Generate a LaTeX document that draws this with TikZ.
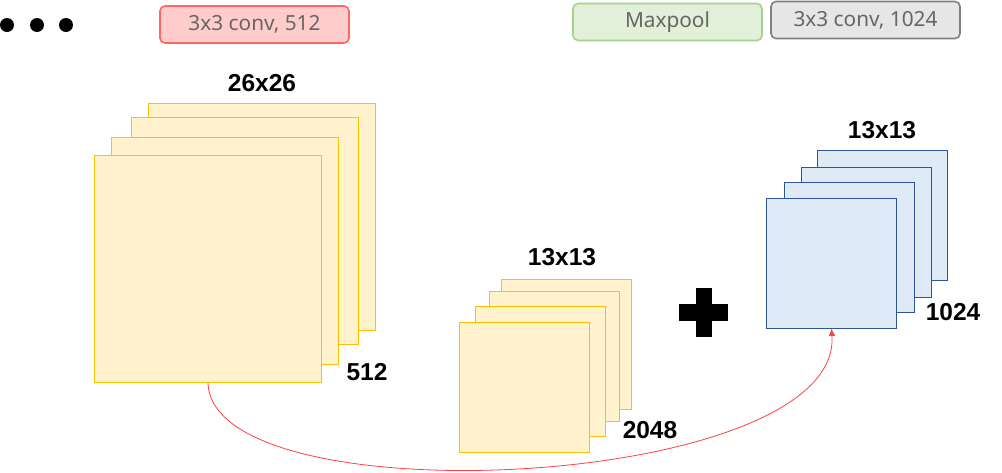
\documentclass[tikz,border=0pt]{standalone}
\usepackage{fontspec}
\setmainfont{Liberation Sans}
\newfontfamily\boxfont{Noto Sans}
\usetikzlibrary{arrows.meta}
\definecolor{yfill}{HTML}{FFF2CC}
\definecolor{ydraw}{HTML}{FFC000}
\definecolor{bfill}{HTML}{DEEBF7}
\definecolor{bdraw}{HTML}{2F5597}
\definecolor{rfill}{HTML}{FFCCCC}
\definecolor{rdraw}{HTML}{FF6666}
\definecolor{gfill}{HTML}{E2F0D9}
\definecolor{gdraw}{HTML}{A9D18E}
\definecolor{kfill}{HTML}{E6E6E6}
\definecolor{kdraw}{HTML}{808080}
\definecolor{txtgrey}{HTML}{666666}
\definecolor{arrred}{HTML}{FF4040}
\tikzset{
  ysq/.style={draw=ydraw, fill=yfill, line width=1pt, inner sep=0pt, anchor=north west},
  bsq/.style={draw=bdraw, fill=bfill, line width=1pt, inner sep=0pt, anchor=north west},
  big/.style={minimum width=227pt, minimum height=227pt},
  small/.style={minimum width=130pt, minimum height=130pt},
  lbl/.style={font=\fontsize{24.5}{28}\selectfont\bfseries, inner sep=0pt},
  tbox/.style={rounded corners=5pt, line width=1.6pt, minimum width=189pt, minimum height=37pt,
    font=\boxfont\fontsize{20.8}{24}\selectfont, text=txtgrey, inner sep=0pt},
  dot/.style={circle, fill=black, minimum size=14pt, inner sep=0pt},
}
\begin{document}
\begin{tikzpicture}[x=1pt, y=-1pt]
\useasboundingbox (0,0) rectangle (1002,472);
% dots
\node[dot] (d1) at (7,25) {};
\node[dot] (d2) at (37,25) {};
\node[dot] (d3) at (66,25) {};
% top boxes
\node[tbox, draw=rdraw, fill=rfill] (conv512) at (254.5,24.5) {3x3 conv, 512};
\node[tbox, draw=gdraw, fill=gfill] (maxpool) at (667.5,22) {Maxpool};
\node[tbox, draw=kdraw, fill=kfill] (conv1024) at (865.5,20) {3x3 conv, 1024};
% left stack
\node[ysq, big] (l4) at (148,103) {};
\node[ysq, big] (l3) at (131,117) {};
\node[ysq, big] (l2) at (111,137) {};
\node[ysq, big] (l1) at (94,155) {};
\node[lbl] (l26) at (262,83) {26x26};
\node[lbl] (l512) at (367,372) {512};
% middle stack
\node[ysq, small] (m4) at (501,279) {};
\node[ysq, small] (m3) at (489,291) {};
\node[ysq, small] (m2) at (475,306) {};
\node[ysq, small] (m1) at (459,322) {};
\node[lbl] (m13) at (562,257) {13x13};
\node[lbl] (m2048) at (650,430) {2048};
% plus
\fill (696,288) rectangle (712,337);
\fill (679,304) rectangle (728,321);
% right stack
\node[bsq, small] (r4) at (817,150) {};
\node[bsq, small] (r3) at (801,167) {};
\node[bsq, small] (r2) at (784,182) {};
\node[bsq, small] (r1) at (766,198) {};
\node[lbl] (r13) at (882,130) {13x13};
\node[lbl] (r1024) at (953,312) {1024};
% skip connection
\draw[arrred, line width=0.8pt, -{Triangle[length=7pt,width=6pt]}]
  (l1.south) .. controls (212,520) and (842,490) .. (r1.south);
\end{tikzpicture}
\end{document}
